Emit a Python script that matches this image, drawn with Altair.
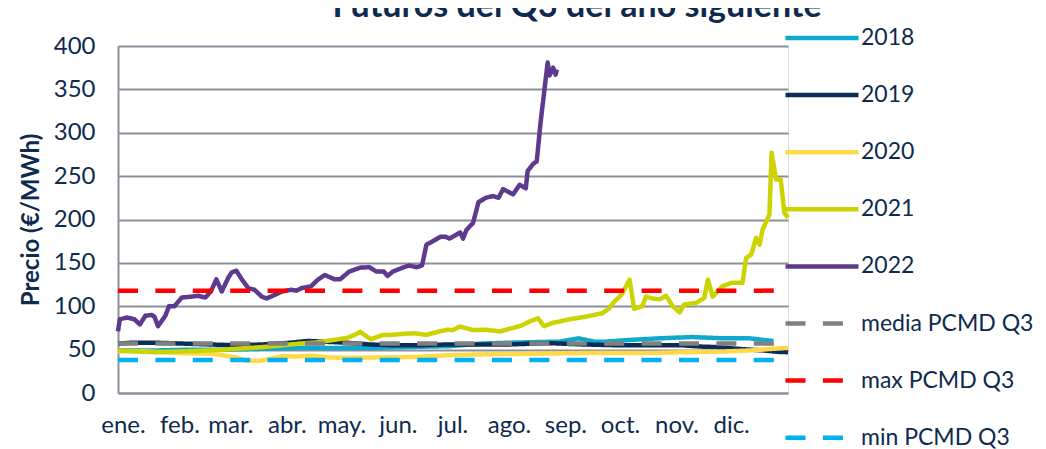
import altair as alt
import pandas as pd

SERIES = ["2018", "2019", "2020", "2021", "2022", "media PCMD Q3", "max PCMD Q3", "min PCMD Q3"]
COLORS = ["#0FA9CD", "#0C2D5A", "#FFD94A", "#CCD300", "#5E3A8E", "#808080", "#FF0000", "#00B0F0"]
DASHES = [[1, 0]] * 5 + [[20, 17.4]] * 3

MONTH_STARTS = [0, 31, 59, 90, 120, 151, 181, 212, 243, 273, 304, 334]
MONTH_LABELS = ["ene.", "feb.", "mar.", "abr.", "may.", "jun.", "jul.", "ago.", "sep.", "oct.", "nov.", "dic."]
Y_TICKS = [0, 50, 100, 150, 200, 250, 300, 350, 400]

TITLE = "Futuros del Q3 del año siguiente"
Y_TITLE = "Precio (€/MWh)"

d2018 = [0, 20, 40, 60, 80, 100, 120, 140, 160, 182, 200, 215, 237, 242, 253, 262, 266, 280, 297, 315, 333, 347, 355, 360]
v2018 = [49, 49, 50, 50, 51, 52, 52, 52, 53, 54, 57, 58, 59, 59, 63, 59, 59, 61, 63, 64.5, 63, 63, 61, 60]

d2019 = [0, 8, 20, 35, 50, 65, 80, 95, 104, 115, 125, 138, 150, 165, 182, 200, 215, 237, 255, 275, 292, 310, 320, 328, 340, 347, 355, 362, 368]
v2019 = [57, 58, 58, 57, 56, 55, 56, 58, 60, 59, 58, 56, 55, 55, 56, 56, 56, 57.5, 56, 55, 55, 55, 53.5, 53, 51, 50, 49, 47.5, 47]

d2020 = [0, 15, 35, 53, 65, 70, 78, 85, 90, 98, 107, 115, 125, 145, 163, 181, 200, 219, 237, 255, 275, 292, 310, 328, 347, 360, 368]
v2020 = [48, 48, 46, 45, 41, 37.5, 37, 40, 42.5, 42, 43, 41, 40.5, 41, 41.5, 43.5, 44.5, 45, 45.5, 46, 46, 46, 47, 47.5, 49, 51, 52]

d2021 = [0, 10, 20, 35, 50, 65, 80, 90, 100, 108, 118, 126, 130, 133, 136, 139, 145.6, 150, 158, 163, 169.4, 176.7, 181, 184,
         187.7, 195, 202, 209.7, 217, 222, 226, 230.7, 234, 239, 242.6, 248, 257, 266, 270, 272, 275.5, 277, 281, 283.5, 288,
         290, 293.6, 297.5, 301, 304.7, 308.5, 311, 317.6, 322, 324, 326.6, 330, 332, 337, 343, 345, 347.8, 350.5, 352.4, 354,
         357.8, 359, 361.5, 364, 366, 368]
v2021 = [49, 48, 47, 48, 49, 51, 53, 55, 57, 58, 61, 63.6, 67, 70.5, 66, 62, 67, 67, 68.4, 68.8, 67, 71, 73, 72.5,
         76.7, 72.5, 73, 71, 75, 78, 82.5, 86, 77, 81, 82.5, 85, 88, 92, 98, 104, 111, 115, 130.6, 97, 100,
         111, 109, 108, 112, 100, 93, 102, 104, 109.5, 130.6, 111, 119, 123, 127, 127, 155.7, 159.5, 178.8, 171, 188,
         205.8, 277, 246, 246, 207.7, 202]

d2022 = [0, 1, 5, 9, 12, 15, 18.5, 20, 22, 26, 28, 31, 35, 40, 44, 48, 51, 54, 57, 60.6, 62.4, 65, 68, 71.5, 75, 79, 81.6,
         86, 90, 95, 98, 101, 106, 110, 113.6, 119, 122, 127, 133, 138, 142, 146, 148, 151, 157, 160, 164, 167, 169.4,
         173, 177, 180, 182, 188, 189.5, 191.4, 195, 198, 202, 206, 209, 211.5, 217, 220.6, 224, 225, 228, 230, 232,
         233.4, 236, 237, 239, 240.4, 241]
v2022 = [71, 85, 87, 85, 79, 89, 90, 88, 77, 89, 100, 100, 110, 111, 112, 110, 117, 131, 117, 133, 139, 141, 131, 121, 119, 111, 109,
         113, 117, 119, 118, 121, 123, 131, 136, 131, 131, 140, 144.5, 145, 140, 140, 135, 140, 145, 147, 145, 147, 171,
         175, 180, 180, 178, 185, 178, 188, 196, 220, 225, 227, 225, 235, 229, 240, 236, 256, 264, 267, 310,
         335, 381, 366, 375, 367, 373]

REF_DAYS = [0, 362]
MEDIA = 57
MAXIMO = 118
MINIMO = 38

rows = []
for name, ds, vs in [("2018", d2018, v2018), ("2019", d2019, v2019), ("2020", d2020, v2020),
                     ("2021", d2021, v2021), ("2022", d2022, v2022)]:
    for d, v in zip(ds, vs):
        rows.append({"serie": name, "dia": d, "precio": v})
for name, v in [("media PCMD Q3", MEDIA), ("max PCMD Q3", MAXIMO), ("min PCMD Q3", MINIMO)]:
    for d in REF_DAYS:
        rows.append({"serie": name, "dia": d, "precio": v})
df = pd.DataFrame(rows)

TEXT = "#0E2A4E"
GRID = "#8C8F99"
FONT = "Lato"

label_expr = "{" + ",".join(f"'{d}':'{m}'" for d, m in zip(MONTH_STARTS, MONTH_LABELS)) + "}[datum.value]"

legend = alt.Legend(
    title=None, orient="none", legendX=665, legendY=-47,
    symbolType="stroke", symbolSize=5329, symbolStrokeWidth=4.5,
    labelFont=FONT, labelFontSize=23, labelColor=TEXT, labelOffset=0,
    rowPadding=6.1, padding=0, labelLimit=300,
)

x_enc = alt.X("dia:Q", scale=alt.Scale(domain=[0, 368], nice=False, zero=False),
              axis=alt.Axis(values=MONTH_STARTS, labelExpr=label_expr, title=None, grid=False,
                            ticks=False, domain=True, domainColor=GRID, domainWidth=2,
                            labelFont=FONT, labelFontSize=24, labelColor=TEXT,
                            labelPadding=20, labelOffset=5, labelAlign="center"))
y_enc = alt.Y("precio:Q", scale=alt.Scale(domain=[0, 400], nice=False),
              axis=alt.Axis(values=Y_TICKS, title=Y_TITLE, grid=True, gridColor=GRID, gridWidth=2,
                            ticks=False, domain=True, domainColor=GRID, domainWidth=2,
                            labelFont=FONT, labelFontSize=24, labelColor=TEXT, labelPadding=23,
                            titleFont=FONT, titleFontSize=24, titleFontWeight="bold", titleColor=TEXT,
                            titlePadding=10))
color_enc = alt.Color("serie:N", scale=alt.Scale(domain=SERIES, range=COLORS), legend=legend, sort=SERIES)
dash_enc = alt.StrokeDash("serie:N", scale=alt.Scale(domain=SERIES, range=DASHES), legend=legend, sort=SERIES)

layers = []
for s in SERIES:
    layers.append(
        alt.Chart(df).transform_filter(alt.datum.serie == s)
        .mark_line(strokeWidth=4.5, strokeJoin="round")
        .encode(x=x_enc, y=y_enc, color=color_enc, strokeDash=dash_enc, order="dia:Q")
    )

title_df = pd.DataFrame({"t": [TITLE]})
title_layer = alt.Chart(title_df).mark_text(
    font=FONT, fontSize=34, fontWeight="bold", color=TEXT, align="center", baseline="alphabetic"
).encode(text="t:N", x=alt.value(459), y=alt.value(-29))

chart = alt.layer(*layers, title_layer).properties(
    width=670, height=347,
    autosize=alt.AutoSizeParams(type="none"),
    padding={"left": 110, "top": 38, "right": 250, "bottom": 56},
).configure_view(stroke=None).configure(background="white")

chart.save("out.html", embed_options={"renderer": "svg", "actions": False})
